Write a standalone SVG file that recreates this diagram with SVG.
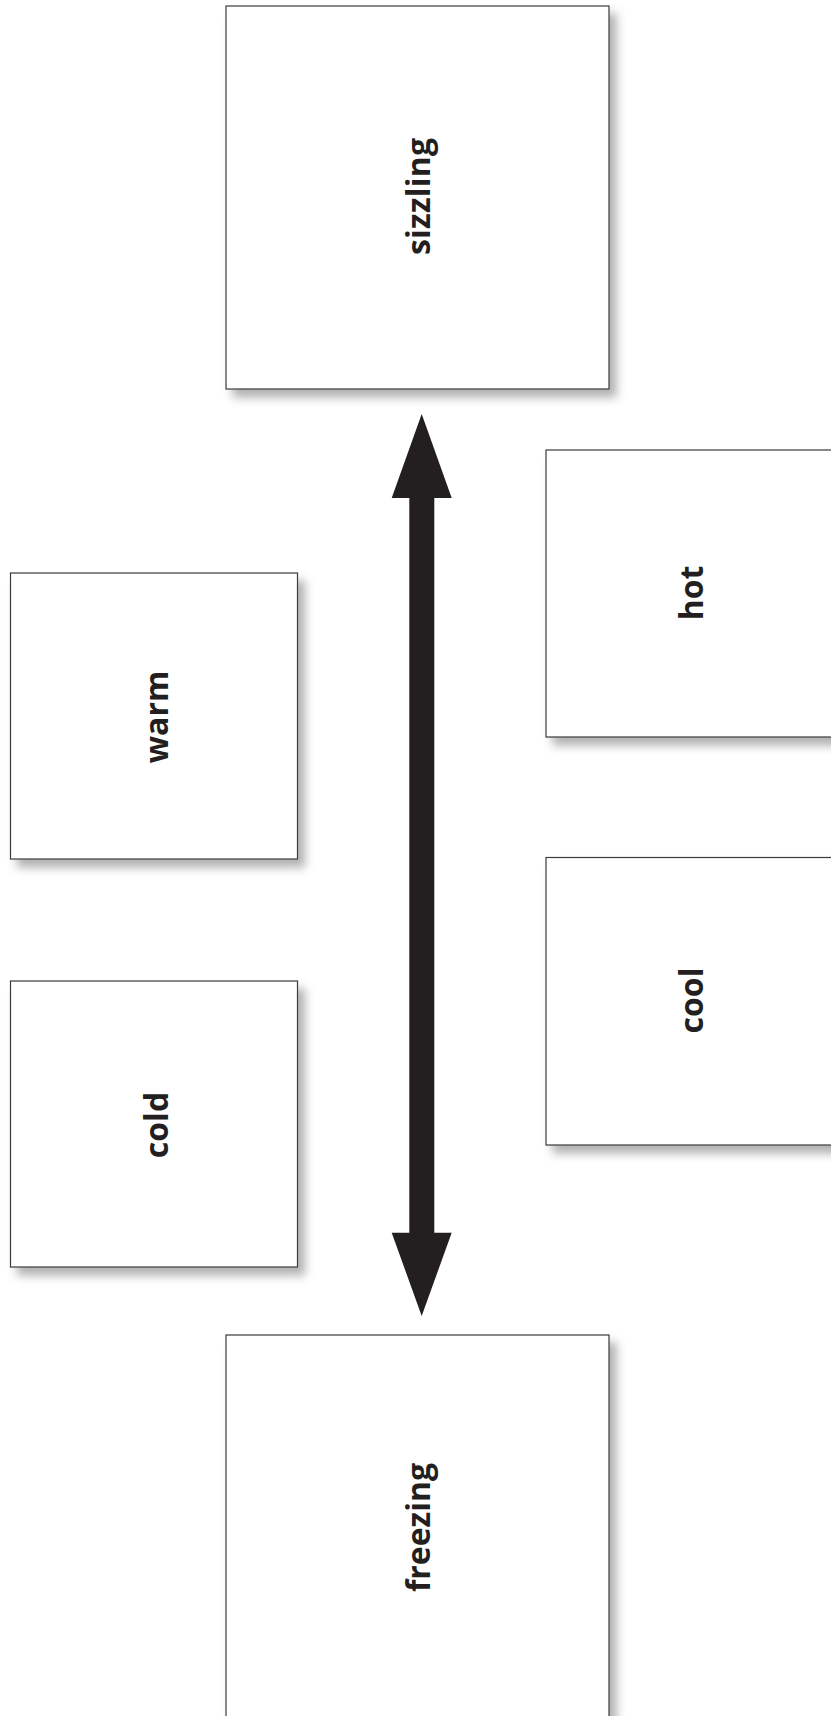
<svg xmlns="http://www.w3.org/2000/svg" width="831" height="1716" viewBox="0 0 831 1716">
<defs>
<filter id="sh" x="-10%" y="-10%" width="125%" height="125%">
<feDropShadow dx="7" dy="8" stdDeviation="5" flood-color="#000" flood-opacity="0.3"/>
</filter>
<style>
.box{fill:#fff;stroke:#3a3a3a;stroke-width:1.2;filter:url(#sh)}
.lbl{font-family:"Open Sans","Liberation Sans",sans-serif;font-weight:bold;font-size:32px;fill:#231f20;text-anchor:middle}
</style>
</defs>
<rect width="831" height="1716" fill="#fff"/>
<g id="connectors">
<polygon fill="#231f20" points="421.7,414 451.7,498 434.3,498 434.3,1232.7 451.7,1232.7 421.7,1316 391.7,1232.7 409.3,1232.7 409.3,498 391.7,498"/>
</g>
<g id="sizzling">
<rect class="box" x="226" y="6" width="383" height="383"/>
<text class="lbl" transform="translate(430,196.5) rotate(-90)" textLength="117" lengthAdjust="spacing">sizzling</text>
</g>
<g id="hot">
<rect class="box" x="546" y="450" width="300" height="287"/>
<text class="lbl" transform="translate(703,593) rotate(-90)">hot</text>
</g>
<g id="warm">
<rect class="box" x="10.5" y="573" width="287" height="286"/>
<text class="lbl" transform="translate(168,717) rotate(-90)">warm</text>
</g>
<g id="cool">
<rect class="box" x="546" y="857.5" width="300" height="287.5"/>
<text class="lbl" transform="translate(703,1000.5) rotate(-90)">cool</text>
</g>
<g id="cold">
<rect class="box" x="10.5" y="981" width="287" height="286"/>
<text class="lbl" transform="translate(168,1125) rotate(-90)">cold</text>
</g>
<g id="freezing">
<rect class="box" x="226" y="1335" width="383" height="383"/>
<text class="lbl" transform="translate(430,1527.5) rotate(-90)" textLength="129" lengthAdjust="spacing">freezing</text>
</g>
</svg>
